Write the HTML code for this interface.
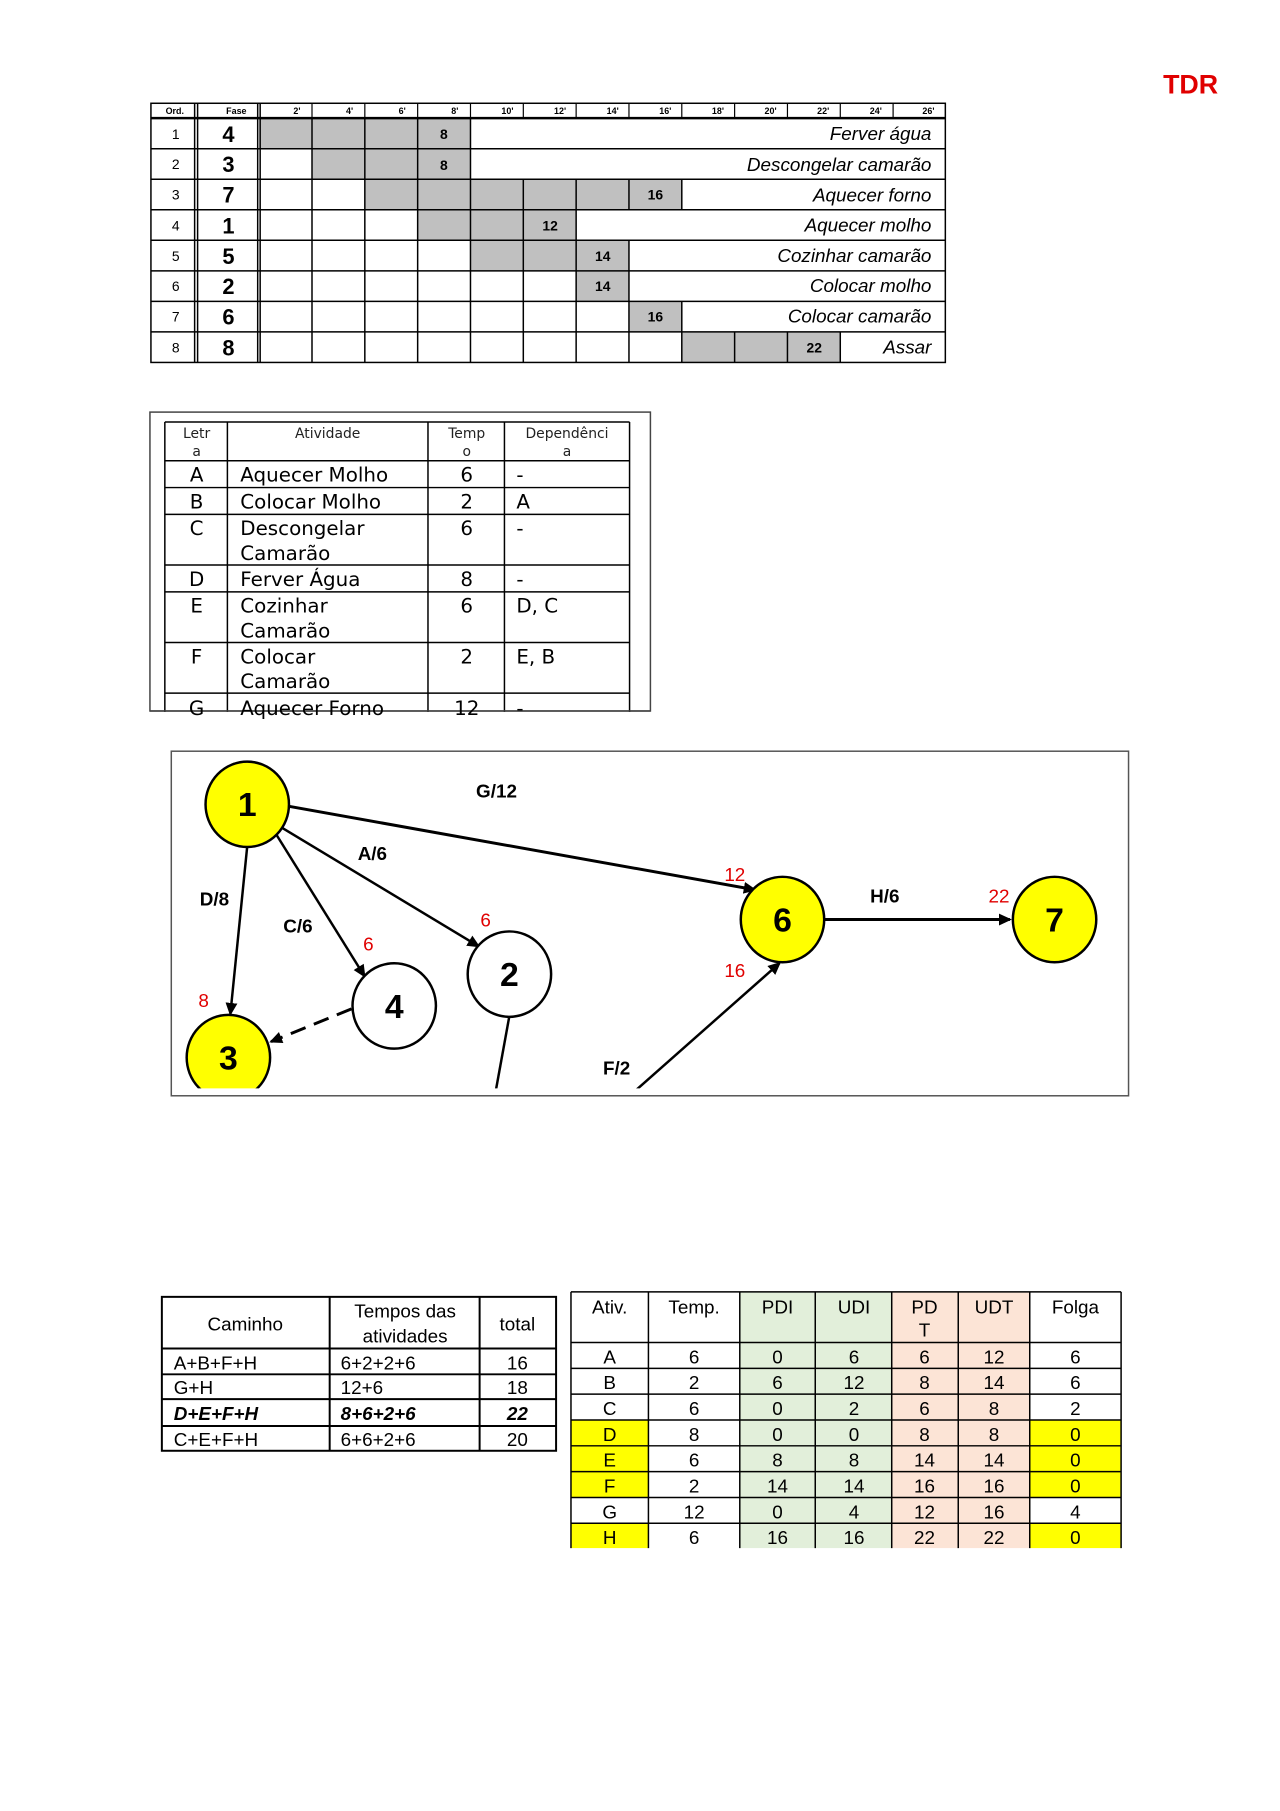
<!DOCTYPE html>
<html><head><meta charset="utf-8"><style>
html,body{margin:0;padding:0;background:#fff;}
svg{display:block}
</style></head><body>
<svg width="1280" height="1811" xmlns="http://www.w3.org/2000/svg" font-family="Liberation Sans, sans-serif">
<rect width="1280" height="1811" fill="#fff"/>
<defs>
<marker id="ar" markerWidth="14" markerHeight="14" refX="11" refY="7" orient="auto" markerUnits="userSpaceOnUse">
<path d="M0 1L13 7L0 13z" fill="#000"/>
</marker>
<clipPath id="bx"><rect x="173" y="757" width="963" height="339"/></clipPath>
</defs>
<g transform="scale(0.993)">
<text x="1199" y="94" font-size="27" font-weight="bold" fill="#e00000" text-anchor="middle">TDR</text>

<!-- GANTT -->
<g stroke="#000" stroke-width="1.5" fill="none">
<g fill="#c0c0c0" stroke="none">
<rect x="261" y="119" width="212.8" height="30.75"/>
<rect x="314.2" y="149.75" width="159.6" height="30.75"/>
<rect x="367.4" y="180.5" width="319.2" height="30.75"/>
<rect x="420.6" y="211.25" width="159.6" height="30.75"/>
<rect x="473.8" y="242" width="159.6" height="30.75"/>
<rect x="580.2" y="272.75" width="53.2" height="30.75"/>
<rect x="633.4" y="303.5" width="53.2" height="30.75"/>
<rect x="686.6" y="334.25" width="159.6" height="30.75"/>
</g>
<rect x="152" y="104" width="800" height="261"/>
<line x1="152" y1="119" x2="952" y2="119" stroke-width="2.5"/>
<line x1="196" y1="104" x2="196" y2="365"/><line x1="199" y1="104" x2="199" y2="365"/>
<line x1="259.5" y1="104" x2="259.5" y2="365"/><line x1="262" y1="104" x2="262" y2="365"/>
<line x1="152" y1="149.75" x2="952" y2="149.75"/><line x1="152" y1="180.5" x2="952" y2="180.5"/>
<line x1="152" y1="211.25" x2="952" y2="211.25"/><line x1="152" y1="242" x2="952" y2="242"/>
<line x1="152" y1="272.75" x2="952" y2="272.75"/><line x1="152" y1="303.5" x2="952" y2="303.5"/>
<line x1="152" y1="334.25" x2="952" y2="334.25"/>
<g stroke-width="1.2">
<line x1="314.2" y1="104" x2="314.2" y2="119"/><line x1="367.4" y1="104" x2="367.4" y2="119"/><line x1="420.6" y1="104" x2="420.6" y2="119"/><line x1="473.8" y1="104" x2="473.8" y2="119"/><line x1="527" y1="104" x2="527" y2="119"/><line x1="580.2" y1="104" x2="580.2" y2="119"/><line x1="633.4" y1="104" x2="633.4" y2="119"/><line x1="686.6" y1="104" x2="686.6" y2="119"/><line x1="739.8" y1="104" x2="739.8" y2="119"/><line x1="793" y1="104" x2="793" y2="119"/><line x1="846.2" y1="104" x2="846.2" y2="119"/><line x1="899.4" y1="104" x2="899.4" y2="119"/>
</g>
<line x1="314.2" y1="119" x2="314.2" y2="149.75"/><line x1="367.4" y1="119" x2="367.4" y2="149.75"/><line x1="420.6" y1="119" x2="420.6" y2="149.75"/><line x1="473.8" y1="119" x2="473.8" y2="149.75"/>
<line x1="314.2" y1="149.75" x2="314.2" y2="180.5"/><line x1="367.4" y1="149.75" x2="367.4" y2="180.5"/><line x1="420.6" y1="149.75" x2="420.6" y2="180.5"/><line x1="473.8" y1="149.75" x2="473.8" y2="180.5"/>
</g>
<g stroke="#000" stroke-width="1.5">
<path d="M314.2 180.5V211.25M367.4 180.5V211.25M420.6 180.5V211.25M473.8 180.5V211.25M527 180.5V211.25M580.2 180.5V211.25M633.4 180.5V211.25M686.6 180.5V211.25"/>
<path d="M314.2 211.25V242M367.4 211.25V242M420.6 211.25V242M473.8 211.25V242M527 211.25V242M580.2 211.25V242"/>
<path d="M314.2 242V272.75M367.4 242V272.75M420.6 242V272.75M473.8 242V272.75M527 242V272.75M580.2 242V272.75M633.4 242V272.75"/>
<path d="M314.2 272.75V303.5M367.4 272.75V303.5M420.6 272.75V303.5M473.8 272.75V303.5M527 272.75V303.5M580.2 272.75V303.5M633.4 272.75V303.5"/>
<path d="M314.2 303.5V334.25M367.4 303.5V334.25M420.6 303.5V334.25M473.8 303.5V334.25M527 303.5V334.25M580.2 303.5V334.25M633.4 303.5V334.25M686.6 303.5V334.25"/>
<path d="M314.2 334.25V365M367.4 334.25V365M420.6 334.25V365M473.8 334.25V365M527 334.25V365M580.2 334.25V365M633.4 334.25V365M686.6 334.25V365M739.8 334.25V365M793 334.25V365M846.2 334.25V365"/>
</g>
<g font-size="9" font-weight="bold" text-anchor="middle">
<text x="176" y="115">Ord.</text><text x="238" y="115">Fase</text>
<text x="299" y="115">2'</text><text x="352" y="115">4'</text><text x="405" y="115">6'</text><text x="458" y="115">8'</text><text x="511" y="115">10'</text><text x="564" y="115">12'</text><text x="617" y="115">14'</text><text x="670" y="115">16'</text><text x="723" y="115">18'</text><text x="776" y="115">20'</text><text x="829" y="115">22'</text><text x="882" y="115">24'</text><text x="935" y="115">26'</text>
</g>
<g font-size="14" text-anchor="middle">
<text x="177" y="140">1</text><text x="177" y="170">2</text><text x="177" y="201">3</text><text x="177" y="232">4</text><text x="177" y="263">5</text><text x="177" y="293">6</text><text x="177" y="324">7</text><text x="177" y="355">8</text>
</g>
<g font-size="22" font-weight="bold" text-anchor="middle">
<text x="230" y="143">4</text><text x="230" y="173">3</text><text x="230" y="204">7</text><text x="230" y="235">1</text><text x="230" y="266">5</text><text x="230" y="296">2</text><text x="230" y="327">6</text><text x="230" y="358">8</text>
</g>
<g font-size="14" font-weight="bold" text-anchor="middle">
<text x="447" y="140">8</text><text x="447" y="171">8</text><text x="660" y="201">16</text><text x="554" y="232">12</text><text x="607" y="263">14</text><text x="607" y="293">14</text><text x="660" y="324">16</text><text x="820" y="355">22</text>
</g>
<g font-size="19" font-style="italic" text-anchor="end">
<text x="938" y="141">Ferver água</text><text x="938" y="172">Descongelar camarão</text><text x="938" y="203">Aquecer forno</text><text x="938" y="233">Aquecer molho</text><text x="938" y="264">Cozinhar camarão</text><text x="938" y="294">Colocar molho</text><text x="938" y="325">Colocar camarão</text><text x="938" y="356">Assar</text>
</g>

<!-- ACTIVITY TABLE -->
<g stroke="#000" fill="none">
<rect x="151" y="415" width="504" height="301" stroke-width="1.5" stroke="#444"/>
<g stroke-width="1.5">
<path d="M166 425H634M166 464H634M166 491H634M166 518H634M166 569H634M166 596H634M166 647H634M166 698H634"/>
<path d="M166 425V725M229 425V725M431 425V725M508 425V725M634 425V725"/>
</g>
</g>
<rect x="140" y="717" width="530" height="20" fill="#fff"/>
<line x1="151" y1="716" x2="655" y2="716" stroke="#444" stroke-width="1.5"/>
<g font-family="DejaVu Sans, sans-serif" font-size="14" fill="#222" text-anchor="middle">
<text x="198" y="441">Letr</text><text x="198" y="459">a</text>
<text x="330" y="441">Atividade</text>
<text x="470" y="441">Temp</text><text x="470" y="459">o</text>
<text x="571" y="441">Dependênci</text><text x="571" y="459">a</text>
</g>
<g font-family="DejaVu Sans, sans-serif" font-size="20" fill="#000">
<g text-anchor="middle">
<text x="198" y="485">A</text><text x="198" y="512">B</text><text x="198" y="539">C</text><text x="198" y="590">D</text><text x="198" y="617">E</text><text x="198" y="668">F</text><text x="198" y="720">G</text>
<text x="470" y="485">6</text><text x="470" y="512">2</text><text x="470" y="539">6</text><text x="470" y="590">8</text><text x="470" y="617">6</text><text x="470" y="668">2</text><text x="470" y="720">12</text>
</g>
<text x="242" y="485">Aquecer Molho</text><text x="242" y="512">Colocar Molho</text><text x="242" y="539">Descongelar</text><text x="242" y="564">Camarão</text><text x="242" y="590">Ferver Água</text><text x="242" y="617">Cozinhar</text><text x="242" y="642">Camarão</text><text x="242" y="668">Colocar</text><text x="242" y="693">Camarão</text><text x="242" y="720">Aquecer Forno</text>
<text x="520" y="485">-</text><text x="520" y="512">A</text><text x="520" y="539">-</text><text x="520" y="590">-</text><text x="520" y="617">D, C</text><text x="520" y="668">E, B</text><text x="520" y="720">-</text>
</g>

<!-- NETWORK DIAGRAM -->
<rect x="172.5" y="756.5" width="964" height="347" fill="none" stroke="#555" stroke-width="1.5"/>
<g clip-path="url(#bx)">
<g stroke="#000" stroke-width="3" marker-end="url(#ar)">
<line x1="291" y1="812" x2="760" y2="896"/>
<line x1="283" y1="833" x2="482" y2="953" stroke-width="2.5"/>
<line x1="278" y1="840" x2="367" y2="983" stroke-width="2.5"/>
<line x1="249" y1="852" x2="232" y2="1021" stroke-width="2.5"/>
<line x1="354" y1="1016" x2="273" y2="1049" stroke-dasharray="16,9" stroke-width="3"/>
<line x1="638" y1="1100" x2="785" y2="970" stroke-width="2.5"/>
<line x1="830" y1="926" x2="1017" y2="926"/>
</g>
<line x1="513" y1="1023" x2="499" y2="1100" stroke="#000" stroke-width="2.5"/>
<g stroke="#000" stroke-width="2.5">
<ellipse cx="249" cy="810" rx="42" ry="43" fill="#ffff00"/>
<ellipse cx="513" cy="981" rx="42" ry="43" fill="#fff"/>
<ellipse cx="397" cy="1013" rx="42" ry="43" fill="#fff"/>
<ellipse cx="230" cy="1065" rx="42" ry="43" fill="#ffff00"/>
<ellipse cx="788" cy="926" rx="42" ry="43" fill="#ffff00"/>
<ellipse cx="1062" cy="926" rx="42" ry="43" fill="#ffff00"/>
</g>
<g font-size="34" font-weight="bold" text-anchor="middle">
<text x="249" y="822">1</text><text x="513" y="993">2</text><text x="397" y="1025">4</text><text x="230" y="1077">3</text><text x="788" y="938">6</text><text x="1062" y="938">7</text>
</g>
<g font-size="19" font-weight="bold" text-anchor="middle">
<text x="500" y="803">G/12</text><text x="375" y="866">A/6</text><text x="216" y="912">D/8</text><text x="300" y="939">C/6</text><text x="891" y="909">H/6</text><text x="621" y="1082">F/2</text>
</g>
<g font-size="19" fill="#e00000" text-anchor="middle">
<text x="740" y="887">12</text><text x="1006" y="909">22</text><text x="489" y="933">6</text><text x="371" y="957">6</text><text x="205" y="1014">8</text><text x="740" y="984">16</text>
</g>
</g>

<!-- PATHS TABLE -->
<g stroke="#000" stroke-width="2" fill="none">
<rect x="163" y="1306" width="397" height="155"/>
<path d="M163 1358H560M163 1384H560M163 1409H560M163 1436H560M332 1306V1461M483 1306V1461"/>
</g>
<g font-size="19" fill="#000">
<text x="247" y="1340" text-anchor="middle">Caminho</text>
<text x="408" y="1327" text-anchor="middle">Tempos das</text><text x="408" y="1352" text-anchor="middle">atividades</text>
<text x="521" y="1340" text-anchor="middle">total</text>
<text x="175" y="1379">A+B+F+H</text><text x="343" y="1379">6+2+2+6</text><text x="521" y="1379" text-anchor="middle">16</text>
<text x="175" y="1404">G+H</text><text x="343" y="1404">12+6</text><text x="521" y="1404" text-anchor="middle">18</text>
<g font-weight="bold" font-style="italic"><text x="175" y="1430">D+E+F+H</text><text x="343" y="1430">8+6+2+6</text><text x="521" y="1430" text-anchor="middle">22</text></g>
<text x="175" y="1456">C+E+F+H</text><text x="343" y="1456">6+6+2+6</text><text x="521" y="1456" text-anchor="middle">20</text>
</g>

<!-- SLACK TABLE -->
<g stroke="none">
<rect x="745" y="1301" width="153" height="258" fill="#e2efda"/>
<rect x="898" y="1301" width="139" height="258" fill="#fce4d6"/>
<g fill="#ffff00">
<rect x="575" y="1430" width="78" height="78"/><rect x="1037" y="1430" width="92" height="78"/>
<rect x="575" y="1534" width="78" height="25"/><rect x="1037" y="1534" width="92" height="25"/>
</g>
</g>
<g stroke="#000" stroke-width="1.5" fill="none">
<path d="M575 1301H1129M575 1352H1129M575 1378H1129M575 1404H1129M575 1430H1129M575 1456H1129M575 1482H1129M575 1508H1129M575 1534H1129"/>
<path d="M575 1301V1559M653 1301V1559M745 1301V1559M821 1301V1559M898 1301V1559M965 1301V1559M1037 1301V1559M1129 1301V1559"/>
</g>
<g font-size="19" fill="#000" text-anchor="middle">
<text x="614" y="1323">Ativ.</text><text x="699" y="1323">Temp.</text><text x="783" y="1323">PDI</text><text x="860" y="1323">UDI</text><text x="931" y="1323">PD</text><text x="931" y="1346">T</text><text x="1001" y="1323">UDT</text><text x="1083" y="1323">Folga</text>
<text x="614" y="1373">A</text><text x="699" y="1373">6</text><text x="783" y="1373">0</text><text x="860" y="1373">6</text><text x="931" y="1373">6</text><text x="1001" y="1373">12</text><text x="1083" y="1373">6</text>
<text x="614" y="1399">B</text><text x="699" y="1399">2</text><text x="783" y="1399">6</text><text x="860" y="1399">12</text><text x="931" y="1399">8</text><text x="1001" y="1399">14</text><text x="1083" y="1399">6</text>
<text x="614" y="1425">C</text><text x="699" y="1425">6</text><text x="783" y="1425">0</text><text x="860" y="1425">2</text><text x="931" y="1425">6</text><text x="1001" y="1425">8</text><text x="1083" y="1425">2</text>
<text x="614" y="1451">D</text><text x="699" y="1451">8</text><text x="783" y="1451">0</text><text x="860" y="1451">0</text><text x="931" y="1451">8</text><text x="1001" y="1451">8</text><text x="1083" y="1451">0</text>
<text x="614" y="1477">E</text><text x="699" y="1477">6</text><text x="783" y="1477">8</text><text x="860" y="1477">8</text><text x="931" y="1477">14</text><text x="1001" y="1477">14</text><text x="1083" y="1477">0</text>
<text x="614" y="1503">F</text><text x="699" y="1503">2</text><text x="783" y="1503">14</text><text x="860" y="1503">14</text><text x="931" y="1503">16</text><text x="1001" y="1503">16</text><text x="1083" y="1503">0</text>
<text x="614" y="1529">G</text><text x="699" y="1529">12</text><text x="783" y="1529">0</text><text x="860" y="1529">4</text><text x="931" y="1529">12</text><text x="1001" y="1529">16</text><text x="1083" y="1529">4</text>
<text x="614" y="1555">H</text><text x="699" y="1555">6</text><text x="783" y="1555">16</text><text x="860" y="1555">16</text><text x="931" y="1555">22</text><text x="1001" y="1555">22</text><text x="1083" y="1555">0</text>
</g>
</g>
</svg>
</body></html>
